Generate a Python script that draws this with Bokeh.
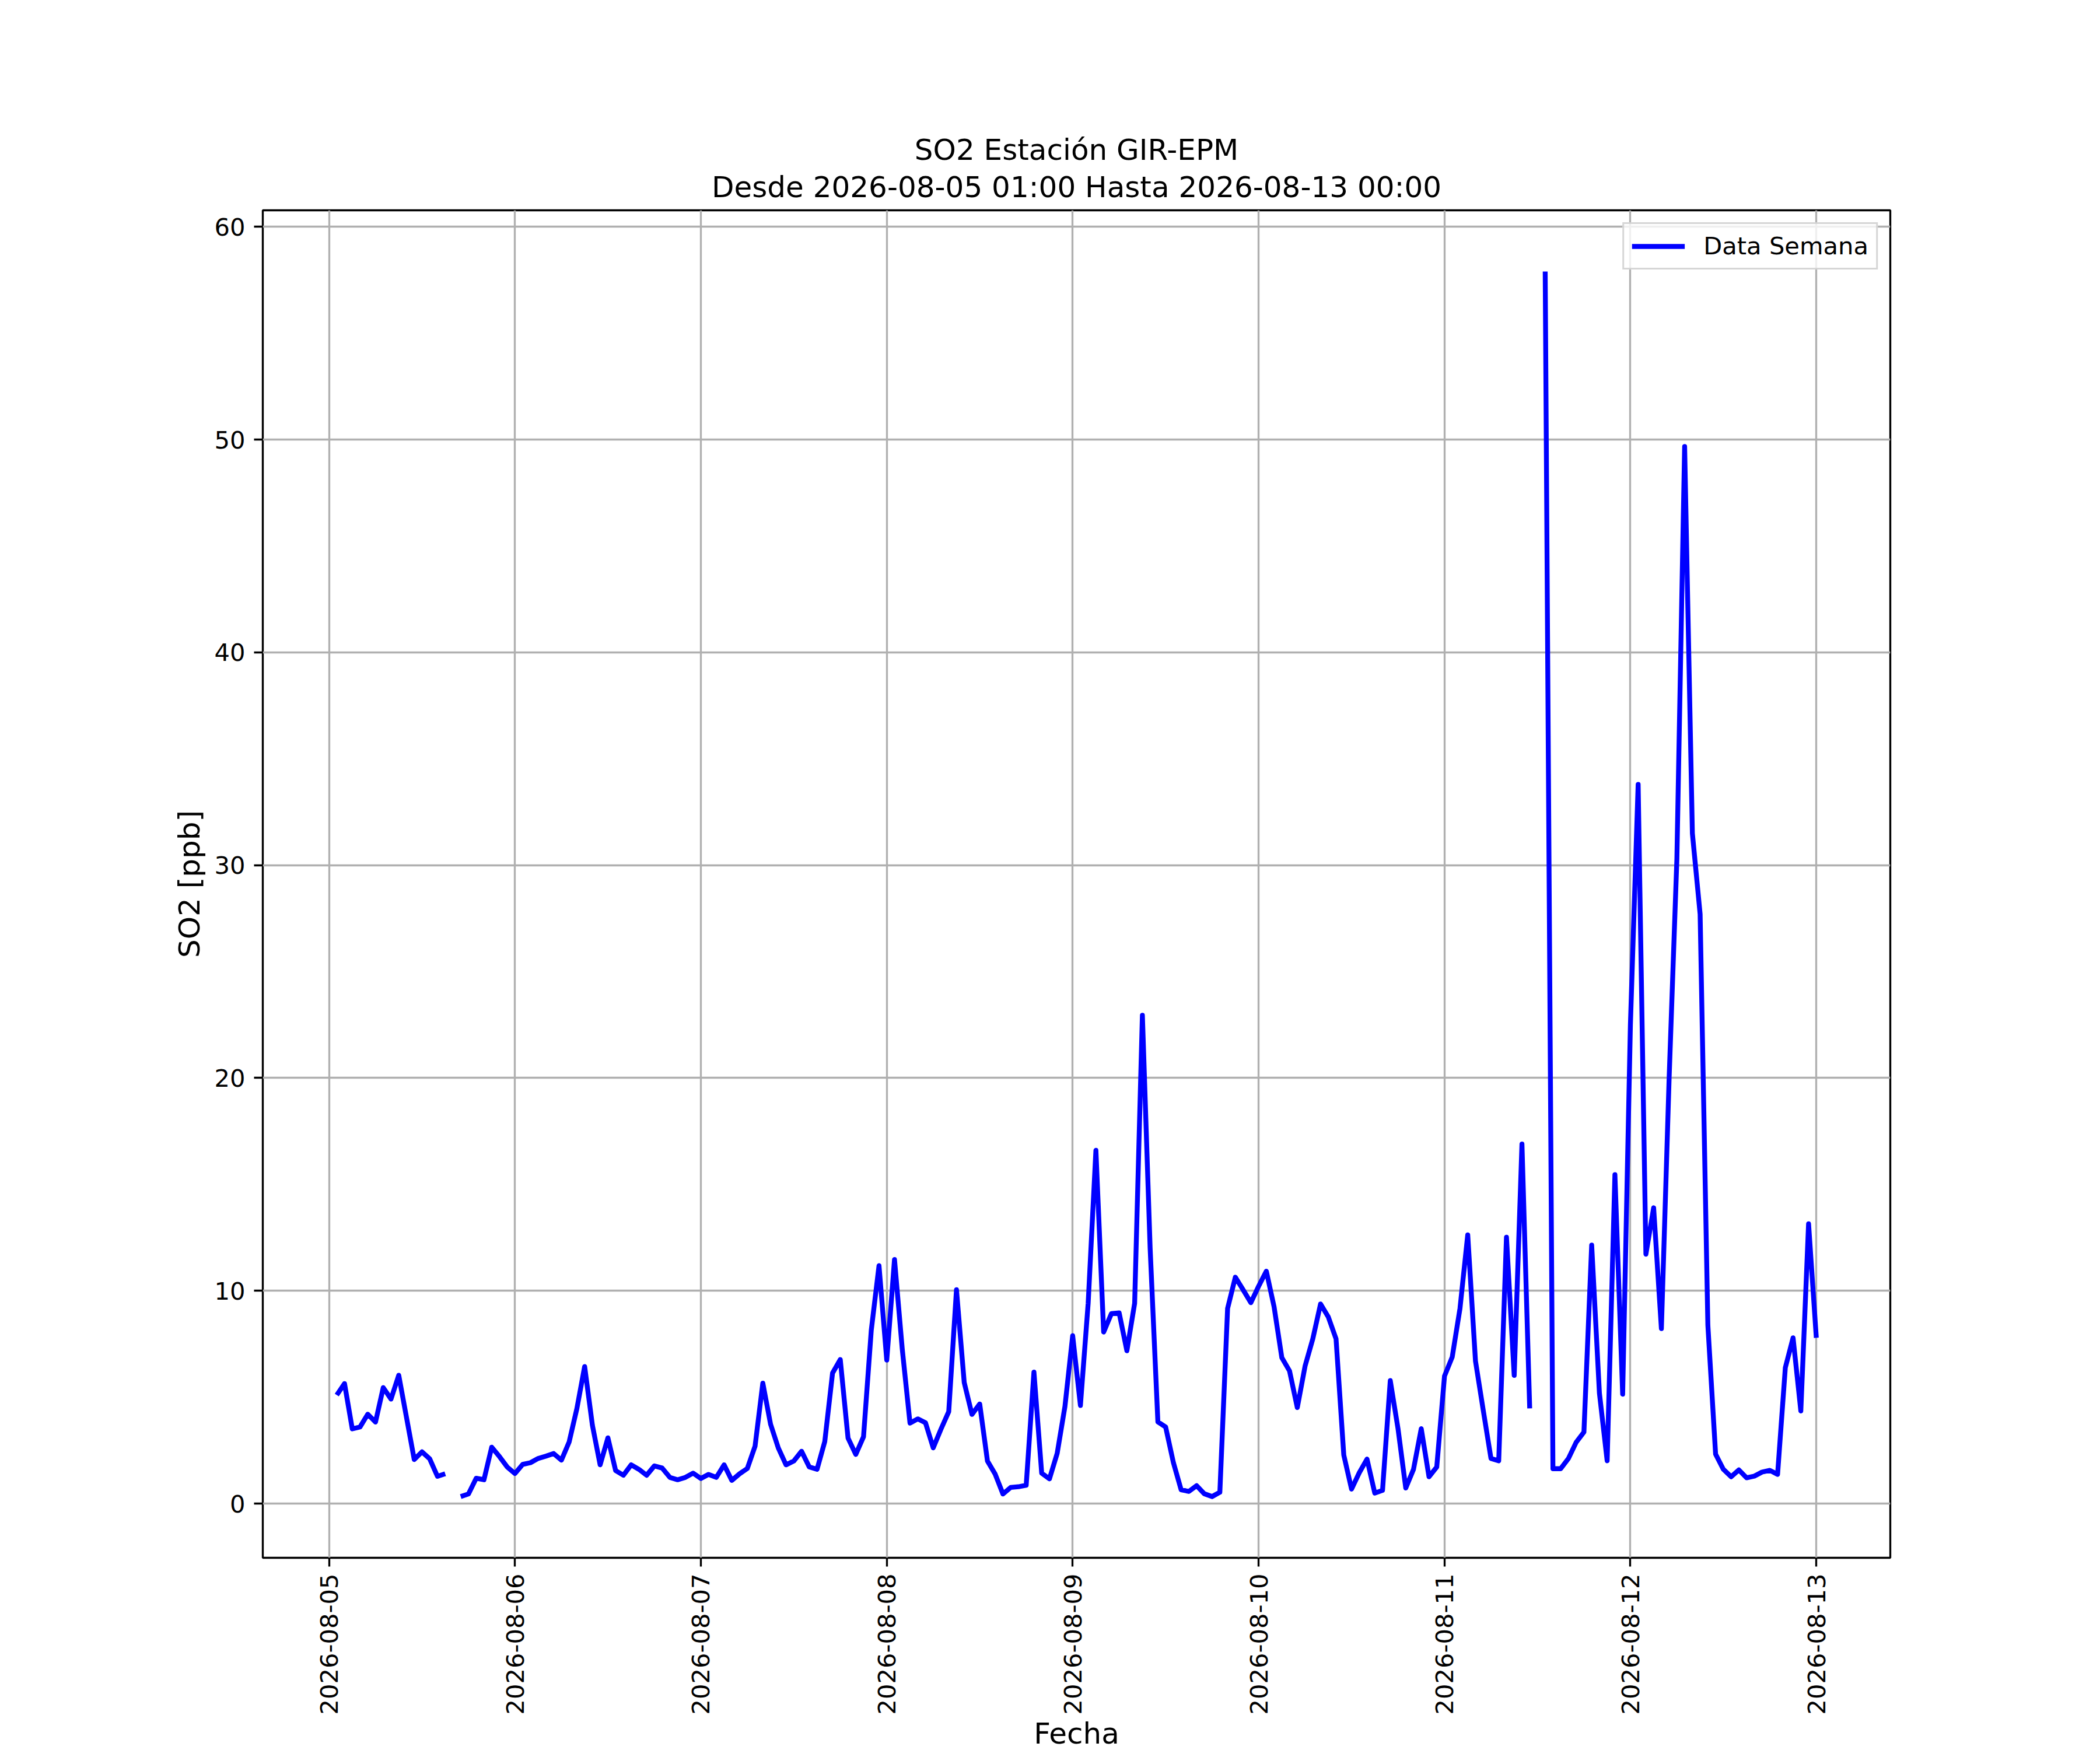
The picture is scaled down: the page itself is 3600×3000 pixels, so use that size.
import math
import numpy as np
import pandas as pd
from bokeh.plotting import figure
from bokeh.models import (Range1d, FixedTicker, DatetimeTickFormatter, Title,
                          Legend, LegendItem, ColumnDataSource)
from bokeh.embed import file_html
from bokeh.resources import INLINE

nan = float("nan")

# ---- data ----
start_time = "2026-08-05 01:00"
so2_values = [
    5.10, 5.64, 3.51, 3.60, 4.20, 3.83, 5.45, 4.91, 6.03, 4.05, 2.07, 2.43,
    2.10, 1.28, 1.40, nan, 0.33, 0.45, 1.19, 1.12, 2.65, 2.21, 1.72, 1.41,
    1.84, 1.92, 2.12, 2.23, 2.35, 2.04, 2.90, 4.47, 6.44, 3.68, 1.82, 3.09,
    1.55, 1.33, 1.82, 1.61, 1.33, 1.77, 1.67, 1.23, 1.12, 1.23, 1.43, 1.18,
    1.37, 1.23, 1.82, 1.09, 1.40, 1.65, 2.70, 5.66, 3.73, 2.61, 1.82, 2.00,
    2.46, 1.72, 1.61, 2.92, 6.13, 6.77, 3.08, 2.31, 3.14, 8.14, 11.18, 6.74,
    11.47, 7.26, 3.78, 3.98, 3.80, 2.62, 3.50, 4.32, 10.05, 5.69, 4.19, 4.68,
    2.00, 1.38, 0.45, 0.76, 0.79, 0.86, 6.18, 1.43, 1.16, 2.36, 4.56, 7.89,
    4.61, 9.41, 16.60, 8.06, 8.93, 8.96, 7.18, 9.41, 22.95, 12.00, 3.84, 3.60,
    1.93, 0.65, 0.57, 0.84, 0.46, 0.33, 0.53, 9.17, 10.64, 10.05, 9.44, 10.21,
    10.92, 9.25, 6.86, 6.23, 4.51, 6.46, 7.74, 9.38, 8.77, 7.74, 2.28, 0.68,
    1.45, 2.09, 0.49, 0.62, 5.78, 3.52, 0.73, 1.61, 3.52, 1.26, 1.72, 5.99,
    6.89, 9.17, 12.63, 6.70, 4.39, 2.12, 2.01, 12.52, 6.02, 16.90, 4.47, nan,
    57.90, 1.64, 1.64, 2.12, 2.88, 3.36, 12.15, 5.19, 2.01, 15.46, 5.14, 22.50,
    33.80, 11.72, 13.90, 8.22, 20.00, 30.30, 49.68, 31.50, 27.70, 8.38, 2.32, 1.61,
    1.26, 1.58, 1.21, 1.29, 1.48, 1.56, 1.37, 6.39, 7.79, 4.35, 13.15, 7.79,
]
x_tick_labels = ["2026-08-05", "2026-08-06", "2026-08-07", "2026-08-08",
                 "2026-08-09", "2026-08-10", "2026-08-11", "2026-08-12",
                 "2026-08-13"]
y_ticks = [0, 10, 20, 30, 40, 50, 60]
title_line1 = "SO2 Estación GIR-EPM"
title_line2 = "Desde 2026-08-05 01:00 Hasta 2026-08-13 00:00"
series_name = "Data Semana"
x_label = "Fecha"
y_label = "SO2 [ppb]"

# ---- derived ----
times = pd.date_range(start_time, periods=len(so2_values), freq="h")
vals = np.array(so2_values, dtype=float)
src = ColumnDataSource(dict(t=times, v=vals))

t0 = times[0].value / 1e6
t1 = times[-1].value / 1e6
xpad = 0.05 * (t1 - t0)
vmin, vmax = np.nanmin(vals), np.nanmax(vals)
ypad = 0.05 * (vmax - vmin)

FONT = "DejaVu Sans"

p = figure(x_axis_type="datetime",
           x_range=Range1d(t0 - xpad, t1 + xpad),
           y_range=Range1d(vmin - ypad, vmax + ypad),
           frame_width=2790, frame_height=2310,
           min_border_left=450, min_border_right=344,
           min_border_top=360, min_border_bottom=300,
           output_backend="svg", toolbar_location=None,
           background_fill_color="white", border_fill_color="white")

# titles (first added sits closest to the plot)
p.add_layout(Title(text=title_line2, align="center", text_font=FONT,
                   text_font_size="50px", text_font_style="normal",
                   text_color="black", standoff=21), "above")
p.add_layout(Title(text=title_line1, align="center", text_font=FONT,
                   text_font_size="50px", text_font_style="normal",
                   text_color="black", standoff=-12), "above")

r = p.line("t", "v", source=src, line_color="#0000ff", line_width=8.33,
           line_join="round", line_cap="butt")

p.outline_line_color = "black"
p.outline_line_width = 3.33
p.outline_line_alpha = 1.0

p.grid.grid_line_color = "#b0b0b0"
p.grid.grid_line_width = 3.33

p.xaxis.ticker = FixedTicker(ticks=[pd.Timestamp(s).value / 1e6 for s in x_tick_labels])
fmt = "%Y-%m-%d"
p.xaxis.formatter = DatetimeTickFormatter(
    microseconds=fmt, milliseconds=fmt, seconds=fmt, minsec=fmt, minutes=fmt,
    hourmin=fmt, hours=fmt, days=fmt, months=fmt, years=fmt)
p.xaxis.major_label_orientation = math.pi / 2
p.yaxis.ticker = FixedTicker(ticks=y_ticks)

p.xaxis.axis_label = x_label
p.yaxis.axis_label = y_label

for ax in (p.xaxis[0], p.yaxis[0]):
    ax.axis_line_color = None
    ax.major_tick_line_color = "black"
    ax.major_tick_line_width = 3.33
    ax.major_tick_out = 15
    ax.major_tick_in = 0
    ax.minor_tick_line_color = None
    ax.major_label_text_font = FONT
    ax.major_label_text_font_size = "41.67px"
    ax.major_label_text_color = "black"
    ax.major_label_standoff = 15
    ax.axis_label_text_font = FONT
    ax.axis_label_text_font_size = "50px"
    ax.axis_label_text_font_style = "normal"
    ax.axis_label_text_color = "black"
p.xaxis.major_label_standoff = 12
p.xaxis.axis_label_standoff = 0
p.yaxis.axis_label_standoff = 10

legend = Legend(items=[LegendItem(label=series_name, renderers=[r])],
                location="top_right", margin=21, padding=13, spacing=0,
                glyph_width=91, glyph_height=38, label_standoff=32,
                label_text_font=FONT, label_text_font_size="41.67px",
                label_text_color="black",
                border_line_color="#cccccc", border_line_width=3.33,
                border_line_alpha=0.8, background_fill_color="white",
                background_fill_alpha=0.8)
p.add_layout(legend)

open("out.html", "w").write(file_html(p, INLINE))
